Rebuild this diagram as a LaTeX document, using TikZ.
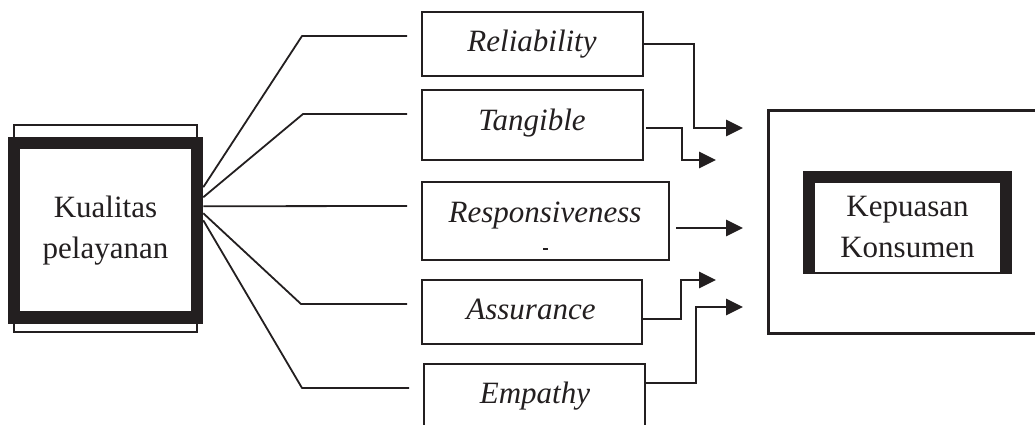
\documentclass[tikz,border=0pt]{standalone}
\usepackage{fontspec}
\setmainfont{Liberation Serif}
\usepackage{xcolor}
\usepackage{tikz}
\usetikzlibrary{calc,arrows.meta}
\definecolor{ink}{HTML}{231F20}
\tikzset{
  fan/.style={draw=ink, line width=1.8pt, line join=round},
  thinbox/.style={draw=ink, line width=1.6pt},
  box/.style={draw=ink, line width=2pt, fill=white, inner sep=0pt},
  heavy/.style={draw=ink, line width=12.5pt, fill=white, inner sep=0pt},
  arr/.style={draw=ink, line width=2.8pt, -{Triangle[length=17pt,width=16pt]}},
  lab/.style={text=ink, font=\fontsize{31}{40}\selectfont\itshape, anchor=base, inner sep=0pt},
  labu/.style={text=ink, font=\fontsize{31}{41}\selectfont, align=center},
}

\begin{document}
\begin{tikzpicture}[x=1pt, y=-1pt]
  \useasboundingbox (0,0) rectangle (1035,425);
  \clip (0,0) rectangle (1035,425);
  \fill[white] (0,0) rectangle (1035,425);

  % left block
  \draw[thinbox] (14,125) rectangle (197,332);
  \node[heavy, labu, minimum width=183pt, minimum height=174.5pt] (kp) at (105.5,230.25) {Kualitas\\pelayanan};

  % dimension boxes
  \node[box, minimum width=221pt, minimum height=64pt] (rel) at (532.5,44) {};
  \node[box, minimum width=221pt, minimum height=70pt] (tan) at (532.5,125) {};
  \node[box, minimum width=247pt, minimum height=78pt] (res) at (545.5,221) {};
  \node[box, minimum width=220pt, minimum height=64pt] (ass) at (532,312) {};
  \node[box, minimum width=221pt, minimum height=76pt] (emp) at (534.5,402) {};

  \node[lab] (rel-l) at (532,52) {Reliability};
  \node[lab] (tan-l) at (532,130) {Tangible};
  \node[lab] (res-l) at (545,222) {Responsiveness};
  \node[lab] (ass-l) at (531,319) {Assurance};
  \node[lab] (emp-l) at (535,403) {Empathy};
  \draw[ink, line width=1.2pt] (543,249) -- (548,249); % stray mark

  % fan from left block
  \coordinate (e1) at (407,36);
  \coordinate (e2) at (407,114);
  \coordinate (e3) at (407,206);
  \coordinate (e4) at (407,304);
  \coordinate (e5) at (409,388);
  \draw[fan] ($(kp.east)+(0,-43)$) -- ($(e1)+(-105,0)$) -- (e1);
  \draw[fan] ($(kp.east)+(0,-33)$) -- ($(e2)+(-104,0)$) -- (e2);
  \draw[fan] ($(kp.east)+(0,-24)$) -- (e3);
  \draw[fan] ($(kp.east)+(0,-17)$) -- ($(e4)+(-106,0)$) -- (e4);
  \draw[fan] ($(kp.east)+(0,-10)$) -- ($(e5)+(-107,0)$) -- (e5);

  % right block
  \draw[ink, line width=3pt] (768,111) rectangle (1050,333);
  \fill[ink] (803,171) rectangle (1012,274);
  \node[labu, fill=white, inner sep=0pt, minimum width=185pt, minimum height=89pt] (kons) at (907.5,227.5) {Kepuasan\\Konsumen};

  % arrows
  \coordinate (t1) at (743,128);
  \coordinate (t2) at (716,160);
  \coordinate (t3) at (743,228);
  \coordinate (t4) at (716,280);
  \coordinate (t5) at (743,307);
  \draw[arr] (rel.east) -- ++(50,0) |- (t1);
  \draw[arr] ($(tan.east)+(2,3)$) -- ++(36,0) |- (t2);
  \draw[arr] ($(res.east)+(6,7)$) -- (t3);
  \draw[arr] ($(ass.east)+(0,7)$) -- ++(38,0) |- (t4);
  \draw[arr] ($(emp.east)+(0,-19)$) -- ++(50,0) |- (t5);
\end{tikzpicture}
\end{document}
